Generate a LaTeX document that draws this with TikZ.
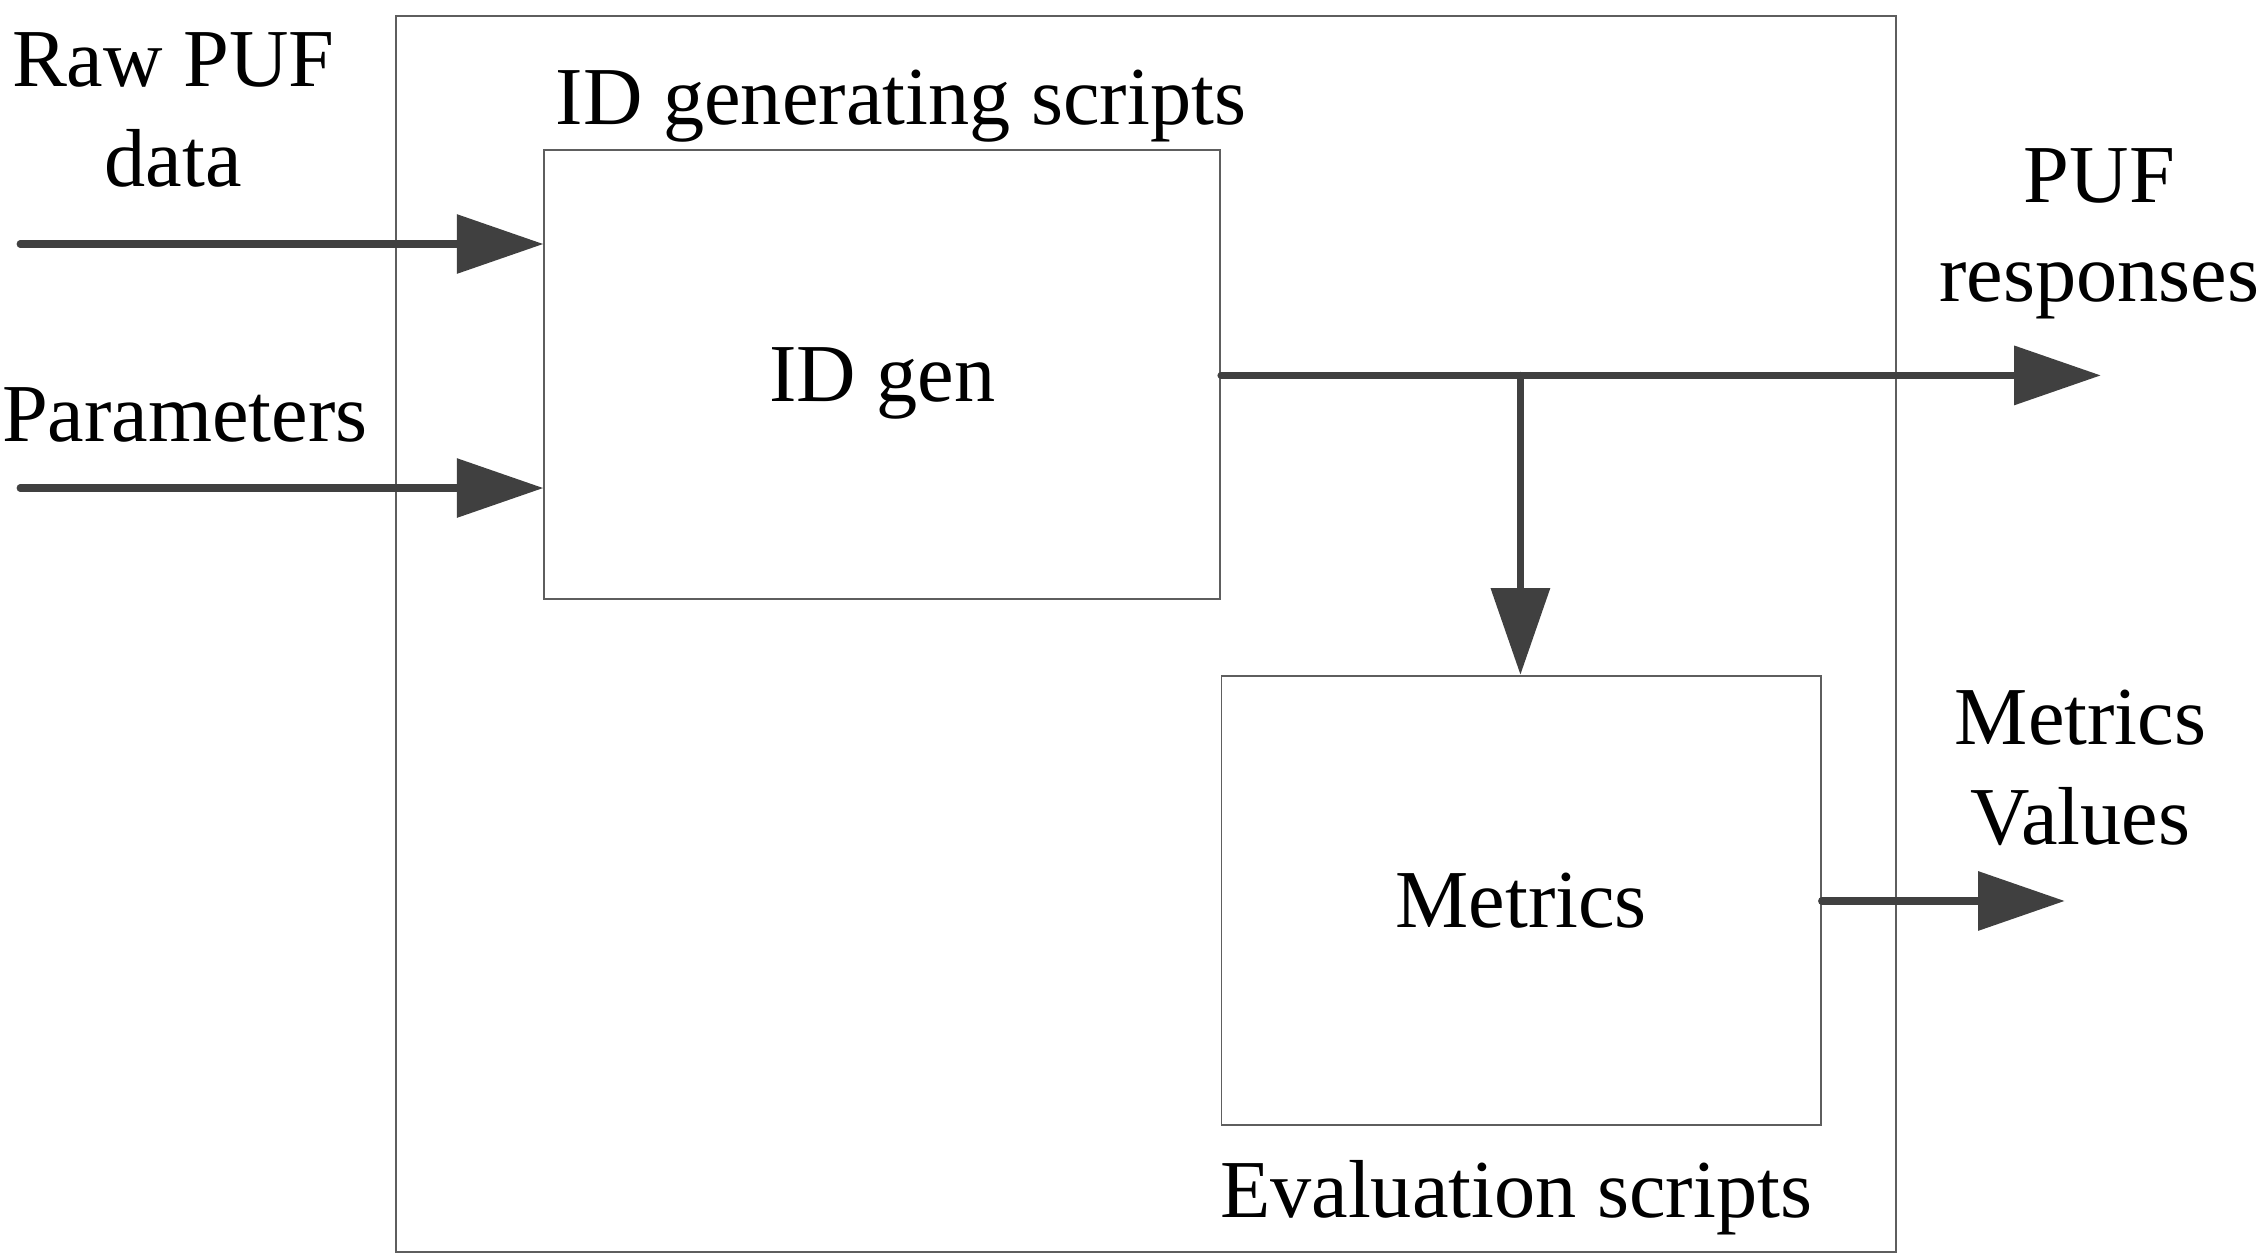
\documentclass[tikz,border=0pt]{standalone}
\usepackage{fontspec}
\setmainfont{Liberation Serif}
\usetikzlibrary{arrows.meta,positioning}
\definecolor{flowgray}{HTML}{404040}
\definecolor{framegray}{HTML}{5E5E5E}
\begin{document}
\begin{tikzpicture}[x=1pt,y=-1pt,
    font=\fontsize{57}{69}\selectfont,
    block/.style={draw=framegray, line width=1.3pt, inner sep=0pt, text depth=0pt},
    flow/.style={draw=flowgray, line width=5pt, line cap=round,
      -{Triangle[length=60pt,width=40pt]}}]
  \useasboundingbox (0,0) rectangle (1568,869);
  \node[block, minimum width=1039pt, minimum height=856pt] (frame) at (793.5,439) {};
  \node[block, minimum width=468pt, minimum height=311pt] (idgen) at (611,259.5) {ID gen};
  \node[block, minimum width=415pt, minimum height=311pt] (metrics) at (1053.5,623.5) {Metrics};
  \node[anchor=base] (idtitle) at (624,86) {ID generating scripts};
  \node[anchor=base] (evaltitle) at (1050,843) {Evaluation scripts};
  \node[align=center] (rawlbl) at (120,76) {Raw PUF\\data};
  \node[anchor=base] (parlbl) at (128,306) {Parameters};
  \node[align=center] (puflbl) at (1454,162) {PUF\\responses};
  \node[align=center] (metlbl) at (1441,532) {Metrics\\Values};
  \coordinate (rawin) at (14,169);
  \coordinate (parin) at (14,338);
  \coordinate (split) at (1053,260);
  \coordinate (pufout) at (1455,260);
  \coordinate (metout) at (1430,624);
  \draw[flow] (rawin) -- (rawin -| idgen.west);
  \draw[flow] (parin) -- (parin -| idgen.west);
  \draw[flow] (idgen.east |- pufout) -- (pufout);
  \draw[flow] (split) -- (split |- metrics.north);
  \draw[flow] (metrics.east |- metout) -- (metout);
\end{tikzpicture}
\end{document}
